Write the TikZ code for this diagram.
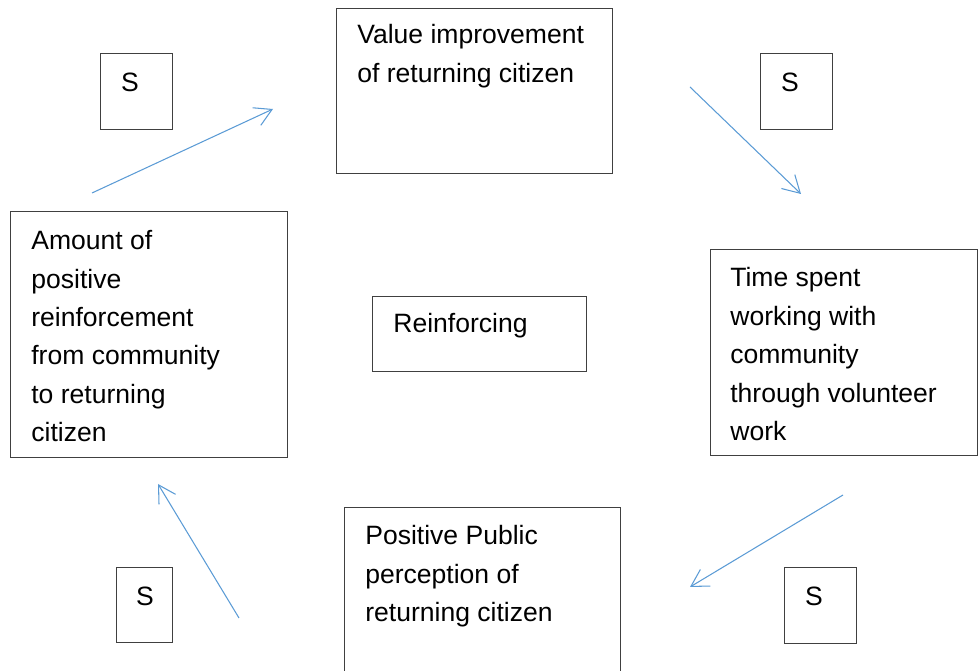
\documentclass[tikz,border=0pt]{standalone}
\usepackage{fontspec}
\setmainfont{Liberation Sans}
\usetikzlibrary{arrows.meta}
\definecolor{loopblue}{HTML}{5B9BD5}
\definecolor{boxline}{HTML}{404040}

\begin{document}
\begin{tikzpicture}[x=0.02cm, y=-0.02cm,
  box/.style={rectangle, draw=boxline, line width=0.75pt, anchor=north west, inner sep=0pt},
  txt/.style={anchor=north west, inner sep=0pt, align=left, font=\fontsize{15.1pt}{21.9pt}\selectfont},
  sign/.style={anchor=base, inner sep=0pt, font=\fontsize{15.1pt}{21.9pt}\selectfont},
  link/.style={draw=loopblue, line width=0.6pt, -{Straight Barb[length=9.6pt, width=11pt]}}
]
  \clip (0,0) rectangle (978,671);

  % variables of the loop
  \node[box, minimum width=5.52cm, minimum height=3.3cm] (val) at (336,8) {};
  \node[txt] (valtxt) at (357,24) {Value improvement\\of returning citizen};

  \node[box, minimum width=5.54cm, minimum height=4.92cm] (amt) at (10,211) {};
  \node[txt] (amttxt) at (31,230) {Amount of\\positive\\reinforcement\\from community\\to returning\\citizen};

  \node[box, minimum width=5.34cm, minimum height=4.12cm] (time) at (710,249) {};
  \node[txt] (timetxt) at (730,267) {Time spent\\working with\\community\\through volunteer\\work};

  \node[box, minimum width=5.52cm, minimum height=3.86cm] (pub) at (344,507) {};
  \node[txt] (pubtxt) at (365,525) {Positive Public\\perception of\\returning citizen};

  \node[box, minimum width=4.28cm, minimum height=1.5cm] (reinf) at (372,296) {};
  \node[txt] (reinftxt) at (393,313) {Reinforcing};

  % polarity boxes
  \node[box, minimum width=1.44cm, minimum height=1.52cm] (s1) at (100,53) {};
  \node[sign] (s1txt) at (130,92) {S};
  \node[box, minimum width=1.44cm, minimum height=1.52cm] (s2) at (760,53) {};
  \node[sign] (s2txt) at (790,92) {S};
  \node[box, minimum width=1.12cm, minimum height=1.5cm] (s3) at (116,567) {};
  \node[sign] (s3txt) at (145,606) {S};
  \node[box, minimum width=1.44cm, minimum height=1.52cm] (s4) at (784,567) {};
  \node[sign] (s4txt) at (814,606) {S};

  % links
  \coordinate (l1s) at (92,193);  \coordinate (l1e) at (273,109);
  \coordinate (l2s) at (690,87);  \coordinate (l2e) at (801,194);
  \coordinate (l3s) at (843,495); \coordinate (l3e) at (690,587);
  \coordinate (l4s) at (239,618); \coordinate (l4e) at (158,484);
  \draw[link] (l1s) -- (l1e);
  \draw[link] (l2s) -- (l2e);
  \draw[link] (l3s) -- (l3e);
  \draw[link] (l4s) -- (l4e);
\end{tikzpicture}
\end{document}
